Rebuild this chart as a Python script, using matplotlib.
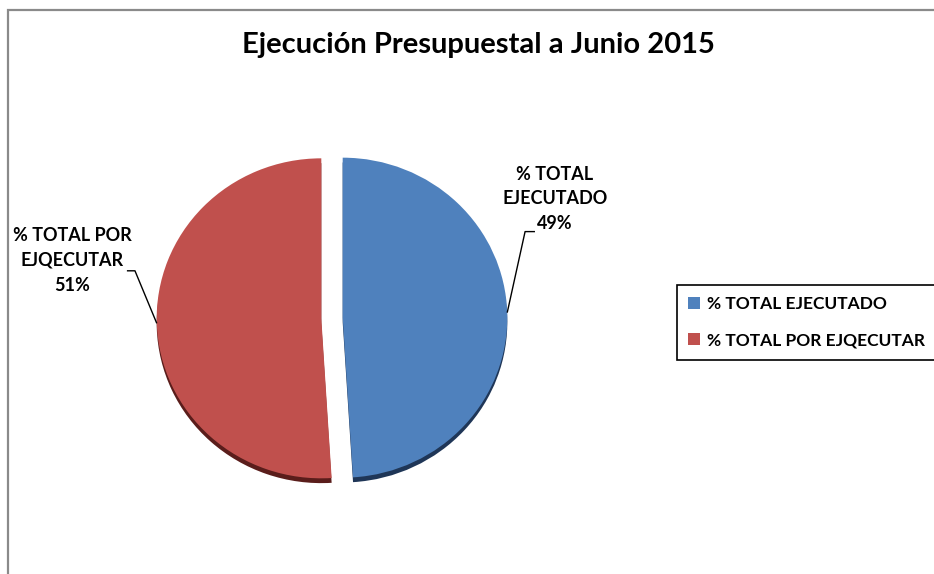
import numpy as np
import matplotlib.pyplot as plt
from matplotlib.patches import Rectangle, Patch

title = "Ejecución Presupuestal a Junio 2015"
categories = ["% TOTAL EJECUTADO", "% TOTAL POR EJQECUTAR"]
label_names = ["% TOTAL\nEJECUTADO", "% TOTAL POR\nEJQECUTAR"]
values = [49, 51]
colors = ["#4F81BD", "#C0504D"]
shadow_colors = ["#1f3657", "#5a1d1b"]

W, H = 934, 574
plt.rcParams['font.family'] = ["Lato", "DejaVu Sans"]
fig = plt.figure(figsize=(W / 100, H / 100), dpi=100)

# grey outer frame (chart area border, partly cut off)
fig.add_artist(Rectangle((8 / W, -1), 2, 2 - 10 / H, transform=fig.transFigure,
                         fill=False, edgecolor="#8a8a8a", lw=1.6))

cx, cy, S = 332, 318, 400
ax = fig.add_axes([(cx - S / 2) / W, (H - cy - S / 2) / H, S / W, S / H])

explode = [0.065, 0.065]
ax.pie(values, colors=shadow_colors, startangle=90, counterclock=False,
       explode=explode, center=(0, -0.03), radius=1.0)
wedges, _ = ax.pie(values, colors=colors, startangle=90, counterclock=False,
                   explode=explode, radius=1.0)
ax.set_aspect('auto')
ax.set_xlim(-1.215, 1.215)
ax.set_ylim(-1.25, 1.25)
ax.axis('off')

pcts = [f"{v}%" for v in values]
# label block centres and leader elbows (data coords)
text_pos = [(1.355, 0.745), (-1.58, 0.36)]
elbows = [[(1.173, 0.54), (1.233, 0.54)], [(-1.197, 0.295), (-1.246, 0.295)]]
for w, name, pct, tp, el in zip(wedges, label_names, pcts, text_pos, elbows):
    th = np.deg2rad((w.theta1 + w.theta2) / 2)
    px = w.center[0] + w.r * np.cos(th)
    py = w.center[1] + w.r * np.sin(th)
    xs = [px] + [p[0] for p in el]
    ys = [py] + [p[1] for p in el]
    ax.plot(xs, ys, color="black", lw=1.0, clip_on=False, solid_capstyle='butt')
    ax.text(tp[0], tp[1], f"{name}\n{pct}", ha="center", va="center",
            multialignment="center", fontsize=13, fontweight="bold",
            linespacing=1.55, clip_on=False, color="black")

fig.text(478 / W, 1 - 45 / H, title, ha="center", va="center",
         fontsize=21, fontweight="bold", color="black")

handles = [Patch(facecolor=c, edgecolor="none") for c in colors]
leg = fig.legend(handles, categories, loc="upper left",
                 bbox_to_anchor=(677 / W, 1 - 285 / H), frameon=True,
                 fancybox=False, edgecolor="black", framealpha=1,
                 handlelength=0.7, handleheight=0.7, handletextpad=0.35,
                 labelspacing=1.15, borderpad=0.65, borderaxespad=0,
                 prop={"weight": "bold", "size": 12.5})
leg.get_frame().set_linewidth(1.2)

fig.savefig("out.png", dpi=100)
